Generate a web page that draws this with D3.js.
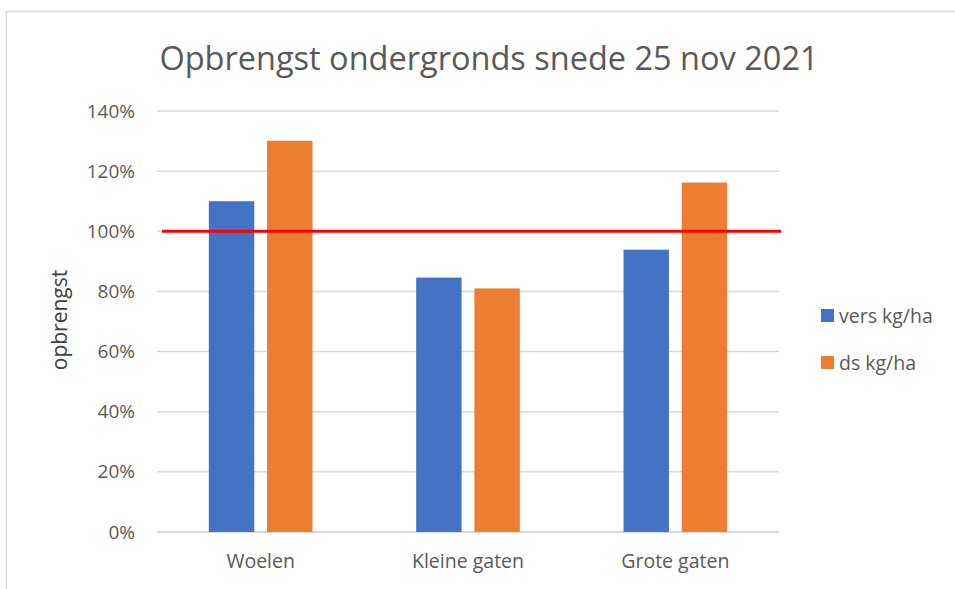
<!DOCTYPE html>
<html>
<head>
<meta charset="utf-8">
<script src="https://cdn.jsdelivr.net/npm/d3@7"></script>
<style>
body{margin:0;background:#fff;}
text{font-family:"Open Sans",sans-serif;fill:#595959;}
</style>
</head>
<body>
<div id="chart"></div>
<script>
var categories=["Woelen","Kleine gaten","Grote gaten"];
var seriesNames=["vers kg/ha","ds kg/ha"];
var versValues=[1.10,0.846,0.939];
var dsValues=[1.301,0.810,1.162];
var yTicks=[0,0.2,0.4,0.6,0.8,1.0,1.2,1.4];
var referenceLevel=1.0;
var colors=["#4472C4","#ED7D31"];

var width=955,height=589;
var margin={left:157,right:176,top:111,bottom:57};

var svg=d3.select("#chart")
    .append("svg")
    .attr("width",width)
    .attr("height",height);

// chart border
svg.append("rect")
    .attr("x",6.5).attr("y",11.5)
    .attr("width",width).attr("height",height)
    .attr("fill","none")
    .attr("stroke","#d9d9d9")
    .attr("stroke-width",1.5);

svg.append("text")
    .attr("x",489).attr("y",70)
    .attr("text-anchor","middle")
    .style("font-size","32.5px")
    .text("Opbrengst ondergronds snede 25 nov 2021");

var x0=d3.scaleBand()
    .domain(categories)
    .range([margin.left,width-margin.right])
    .paddingInner(0.5)
    .paddingOuter(0.25);
var x1=d3.scaleBand()
    .domain(seriesNames)
    .range([0,x0.bandwidth()])
    .paddingInner(0.22);
var y=d3.scaleLinear()
    .domain([0,1.4])
    .range([height-margin.bottom,margin.top]);

// gridlines
svg.append("g")
    .selectAll("line")
    .data(yTicks)
    .enter()
    .append("line")
    .attr("x1",margin.left)
    .attr("x2",width-margin.right)
    .attr("y1",function(d){return y(d);})
    .attr("y2",function(d){return y(d);})
    .attr("stroke","#d9d9d9")
    .attr("stroke-width",function(d){return d===0?2:1.5;});

var yAxis=d3.axisLeft(y)
    .tickValues(yTicks)
    .tickFormat(d3.format(".0%"))
    .tickSize(0)
    .tickPadding(22);
var yg=svg.append("g")
    .attr("transform","translate("+margin.left+",0)")
    .call(yAxis);
yg.select(".domain").remove();
yg.selectAll("text").style("font-size","19px").attr("fill","#595959");

var xAxis=d3.axisBottom(x0).tickSize(0).tickPadding(22);
var xg=svg.append("g")
    .attr("transform","translate(0,"+y(0)+")")
    .call(xAxis);
xg.select(".domain").remove();
xg.selectAll("text").style("font-size","19.5px").attr("fill","#595959");

var data=categories.map(function(c,i){
    return {category:c,values:[
        {series:seriesNames[0],value:versValues[i]},
        {series:seriesNames[1],value:dsValues[i]}
    ]};
});

svg.append("g")
    .selectAll("g")
    .data(data)
    .enter()
    .append("g")
    .attr("transform",function(d){return "translate("+x0(d.category)+",0)";})
    .selectAll("rect")
    .data(function(d){return d.values;})
    .enter()
    .append("rect")
    .attr("x",function(d){return x1(d.series);})
    .attr("y",function(d){return y(d.value);})
    .attr("width",x1.bandwidth())
    .attr("height",function(d){return y(0)-y(d.value);})
    .attr("fill",function(d,i){return colors[i];});

// 100% reference line
svg.append("line")
    .attr("x1",margin.left+5)
    .attr("x2",width-margin.right+2)
    .attr("y1",y(referenceLevel))
    .attr("y2",y(referenceLevel))
    .attr("stroke","#ff0000")
    .attr("stroke-width",3);

svg.append("text")
    .attr("transform","translate(67,320) rotate(-90)")
    .attr("text-anchor","middle")
    .style("font-size","21px")
    .style("fill","#404040")
    .text("opbrengst");

var legend=svg.append("g")
    .selectAll("g")
    .data(seriesNames)
    .enter()
    .append("g")
    .attr("transform",function(d,i){return "translate(821,"+(309+i*47)+")";});
legend.append("rect")
    .attr("width",13).attr("height",13)
    .attr("fill",function(d,i){return colors[i];});
legend.append("text")
    .attr("x",18).attr("y",14)
    .style("font-size","19.5px")
    .text(function(d){return d;});
</script>
</body>
</html>
